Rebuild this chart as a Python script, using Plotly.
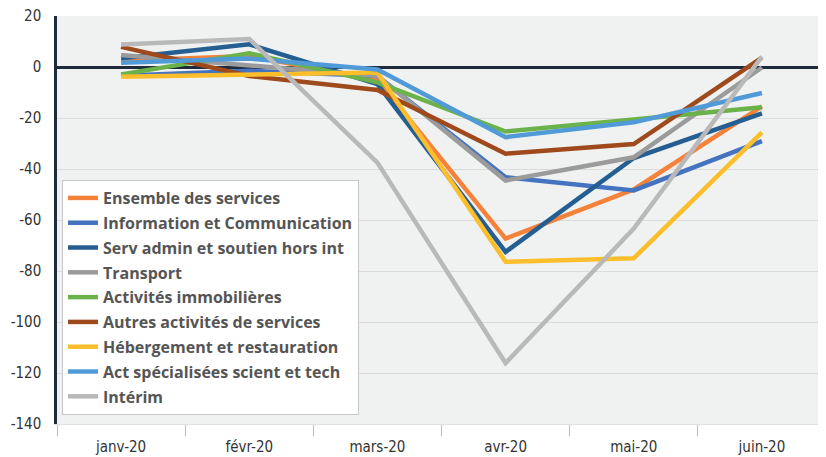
import plotly.graph_objects as go

months = ["janv-20", "févr-20", "mars-20", "avr-20", "mai-20", "juin-20"]

series_names = [
    "Ensemble des services",
    "Information et Communication",
    "Serv admin et soutien hors int",
    "Transport",
    "Activités immobilières",
    "Autres activités de services",
    "Hébergement et restauration",
    "Act spécialisées scient et tech",
    "Intérim",
]

ensemble = [2.5, 4.3, -5, -67.3, -48, -15.4]
information = [-3.4, -1.5, -3.5, -43.2, -48.4, -29.1]
serv_admin = [3.4, 8.9, -6.7, -72.5, -35.7, -18.2]
transport = [4.7, 0.5, -3.5, -44.5, -35.4, -0.2]
immobilieres = [-2.9, 5.4, -6, -25.3, -20.6, -15.8]
autres = [7.9, -3.5, -9, -34, -30.2, 3.7]
hebergement = [-3.8, -2.8, -2.2, -76.4, -75, -25.6]
act_spec = [1.7, 3.3, -1, -27.5, -21.7, -10.2]
interim = [8.8, 11, -37.5, -116.1, -63.4, 4.1]

series_values = [ensemble, information, serv_admin, transport, immobilieres,
                 autres, hebergement, act_spec, interim]
colors = ["#F5823A", "#4473C0", "#255E91", "#9B9B9B", "#6CB24A",
          "#9E4A1C", "#FDBE2C", "#519AD8", "#B9B9B9"]

y_ticks = [20, 0, -20, -40, -60, -80, -100, -120, -140]

fig = go.Figure()
for i, (name, vals, col) in enumerate(zip(series_names, series_values, colors)):
    fig.add_trace(go.Scatter(
        x=months, y=vals, name=name, mode="lines",
        line=dict(color=col, width=4.5),
        legendgroup=f"g{i}",
    ))

fig.update_layout(
    width=818, height=449,
    margin=dict(l=49, r=0, t=8, b=33, autoexpand=False),
    paper_bgcolor="white",
    plot_bgcolor="#F0F2F2",
    showlegend=True,
    legend=dict(
        x=0.0065, y=0.598, xanchor="left", yanchor="top",
        bgcolor="white", bordercolor="#C8C8C8", borderwidth=1,
        font=dict(family="Open Sans", size=16, color="#555555", weight=700),
        tracegroupgap=1,
        itemwidth=30,
    ),
    xaxis=dict(
        type="category",
        range=[-0.5, 5.5],
        automargin=False,
        showgrid=False,
        tickson="boundaries",
        ticks="outside", ticklen=11, tickcolor="#BDBDBD", tickwidth=1,
        ticklabelstandoff=9,
        showline=True, linecolor="#E2E2E2", linewidth=1,
        tickfont=dict(family="Liberation Sans Narrow, DejaVu Sans Condensed", size=15, color="#333333"),
        fixedrange=True,
    ),
    yaxis=dict(
        range=[-140, 20],
        automargin=False,
        tickvals=y_ticks,
        ticktext=[str(v) for v in y_ticks],
        showgrid=True, gridcolor="#DCDCDC", gridwidth=1,
        zeroline=True, zerolinecolor="#1E2B3A", zerolinewidth=2.5,
        showline=True, linecolor="#1E2B3A", linewidth=2.5,
        ticks="outside", ticklen=10, tickcolor="rgba(0,0,0,0)",
        ticklabeloverflow="allow",
        tickfont=dict(family="Liberation Sans Narrow, DejaVu Sans Condensed", size=15, color="#333333"),
        fixedrange=True,
    ),
)

fig.write_html("out.html")
